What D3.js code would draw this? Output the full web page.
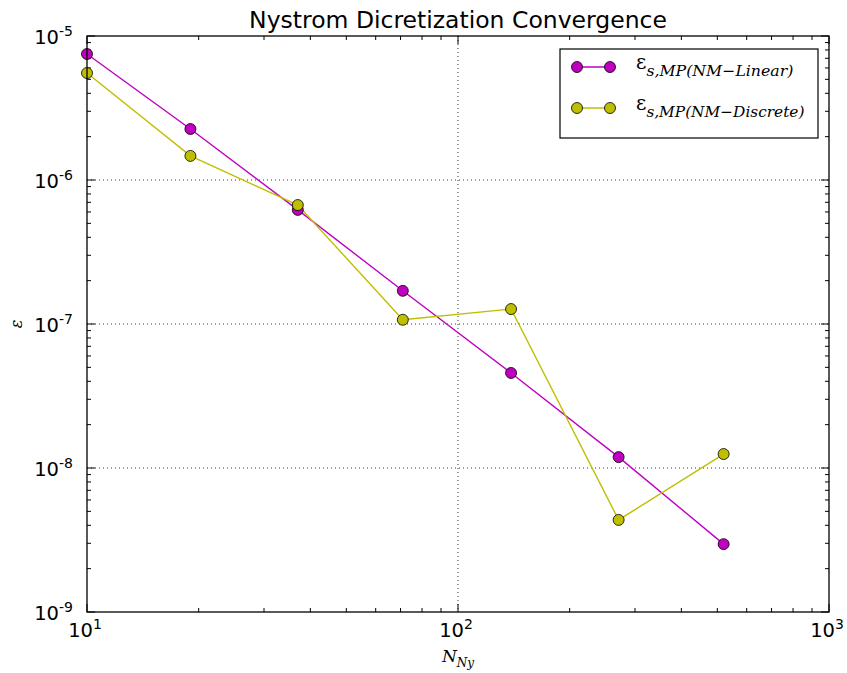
<!DOCTYPE html>
<html><head><meta charset="utf-8">
<script src="https://cdn.jsdelivr.net/npm/d3@7"></script>
<style>body{margin:0;background:#fff}svg{display:block}</style>
</head><body>
<script>
const N = [10, 19, 37, 71, 139, 271, 520];
const linearErr = [7.5e-6, 2.26e-6, 6.2e-7, 1.70e-7, 4.57e-8, 1.19e-8, 2.96e-9];
const discreteErr = [5.53e-6, 1.47e-6, 6.7e-7, 1.07e-7, 1.27e-7, 4.36e-9, 1.25e-8];
const seriesNames = ["Linear", "Discrete"];
const xTicks = [10, 100, 1000];
const yTicks = [1e-9, 1e-8, 1e-7, 1e-6, 1e-5];

const W = 847, H = 673;
const m = {l: 87, r: 829, t: 36, b: 612};
const svg = d3.select("body").append("svg").attr("width", W).attr("height", H)
  .style("font-family", "'DejaVu Sans', sans-serif");

const x = d3.scaleLog().domain([10, 1000]).range([m.l, m.r]);
const y = d3.scaleLog().domain([1e-9, 1e-5]).range([m.b, m.t]);

// grid
const g = svg.append("g");
xTicks.slice(1, -1).forEach(t => g.append("line").attr("x1", x(t)).attr("x2", x(t)).attr("y1", m.t).attr("y2", m.b)
  .attr("stroke", "#000").attr("stroke-width", 0.8).attr("stroke-dasharray", "1,3"));
yTicks.slice(1, -1).forEach(t => g.append("line").attr("x1", m.l).attr("x2", m.r).attr("y1", y(t)).attr("y2", y(t))
  .attr("stroke", "#000").attr("stroke-width", 0.8).attr("stroke-dasharray", "1,3"));

// minor ticks
const minorX = [];
for (let d = 10; d < 1000; d *= 10) for (let k = 2; k < 10; k++) minorX.push(d * k);
const minorY = [];
for (let d = 1e-9; d < 1e-5 * 0.99; d *= 10) for (let k = 2; k < 10; k++) minorY.push(d * k);

const ax = svg.append("g").attr("stroke", "#000");
minorX.forEach(t => {
  ax.append("line").attr("x1", x(t)).attr("x2", x(t)).attr("y1", m.b).attr("y2", m.b - 4);
  ax.append("line").attr("x1", x(t)).attr("x2", x(t)).attr("y1", m.t).attr("y2", m.t + 4);
});
xTicks.forEach(t => {
  ax.append("line").attr("x1", x(t)).attr("x2", x(t)).attr("y1", m.b).attr("y2", m.b - 8);
  ax.append("line").attr("x1", x(t)).attr("x2", x(t)).attr("y1", m.t).attr("y2", m.t + 8);
});
minorY.forEach(t => {
  ax.append("line").attr("y1", y(t)).attr("y2", y(t)).attr("x1", m.l).attr("x2", m.l + 4);
  ax.append("line").attr("y1", y(t)).attr("y2", y(t)).attr("x1", m.r).attr("x2", m.r - 4);
});
yTicks.forEach(t => {
  ax.append("line").attr("y1", y(t)).attr("y2", y(t)).attr("x1", m.l).attr("x2", m.l + 8);
  ax.append("line").attr("y1", y(t)).attr("y2", y(t)).attr("x1", m.r).attr("x2", m.r - 8);
});

// tick labels
xTicks.forEach(t => {
  const e = Math.round(Math.log10(t));
  const tx = svg.append("text").attr("x", x(t) - 2).attr("y", m.b + 25).attr("text-anchor", "middle")
    .attr("font-size", 19.5);
  tx.append("tspan").text("10");
  tx.append("tspan").attr("dy", -8).attr("font-size", 14).text(e);
});
yTicks.forEach(t => {
  const e = Math.round(Math.log10(t));
  const tx = svg.append("text").attr("x", m.l - 14).attr("y", y(t) + 8).attr("text-anchor", "end")
    .attr("font-size", 19.5);
  tx.append("tspan").text("10");
  tx.append("tspan").attr("dy", -8).attr("font-size", 14).text(e);
});

// series
const colors = ["#bf00bf", "#bfbf00"];
const data = [linearErr, discreteErr];
const line = d3.line().x(d => x(d[0])).y(d => y(d[1]));
const plot = svg.append("g");
data.forEach((vals, i) => {
  const pts = N.map((n, j) => [n, vals[j]]);
  plot.append("path").datum(pts).attr("d", line).attr("fill", "none").attr("stroke", colors[i]).attr("stroke-width", 1.4);
});
data.forEach((vals, i) => {
  const pts = N.map((n, j) => [n, vals[j]]);
  plot.selectAll(null).data(pts).enter().append("circle")
    .attr("cx", d => x(d[0])).attr("cy", d => y(d[1])).attr("r", 5.5)
    .attr("fill", colors[i]).attr("stroke", "#000").attr("stroke-width", 0.8);
});

// frame
svg.append("rect").attr("x", m.l).attr("y", m.t).attr("width", m.r - m.l).attr("height", m.b - m.t)
  .attr("fill", "none").attr("stroke", "#000").attr("stroke-width", 1.3);

// title
svg.append("text").attr("x", (m.l + m.r) / 2).attr("y", 28).attr("text-anchor", "middle")
  .attr("font-size", 23.5).text("Nystrom Dicretization Convergence");

// axis labels
const xl = svg.append("text").attr("x", (m.l + m.r) / 2).attr("y", 662).attr("text-anchor", "middle")
  .attr("font-family", "'DejaVu Serif', serif").attr("font-style", "italic").attr("font-size", 17);
xl.append("tspan").text("N");
xl.append("tspan").attr("dy", 5).attr("font-size", 12).text("Ny");

svg.append("text").attr("transform", `translate(22,${(m.t + m.b) / 2}) rotate(-90)`).attr("text-anchor", "middle")
  .attr("font-family", "'DejaVu Serif', serif").attr("font-style", "italic").attr("font-size", 16).text("ε");

// legend
const lg = svg.append("g");
lg.append("rect").attr("x", 560).attr("y", 49).attr("width", 258).attr("height", 89)
  .attr("fill", "#fff").attr("stroke", "#000").attr("stroke-width", 1.2);
seriesNames.forEach((name, i) => {
  const ly = 67 + i * 41;
  lg.append("line").attr("x1", 577).attr("x2", 610).attr("y1", ly).attr("y2", ly).attr("stroke", colors[i]).attr("stroke-width", 1.4);
  [577, 610].forEach(cx => lg.append("circle").attr("cx", cx).attr("cy", ly).attr("r", 5.5)
    .attr("fill", colors[i]).attr("stroke", "#000").attr("stroke-width", 0.8));
  const t = lg.append("text").attr("x", 636).attr("y", ly + 2).attr("font-family", "'DejaVu Serif', serif")
    .attr("font-style", "italic").attr("font-size", 20);
  t.append("tspan").attr("font-style", "normal").text("ε");
  t.append("tspan").attr("dy", 7).attr("font-size", 15.5)
    .attr("textLength", name === "Linear" ? 147 : 158).attr("lengthAdjust", "spacingAndGlyphs")
    .text("s,MP(NM−" + name + ")");
});
</script>
</body></html>
